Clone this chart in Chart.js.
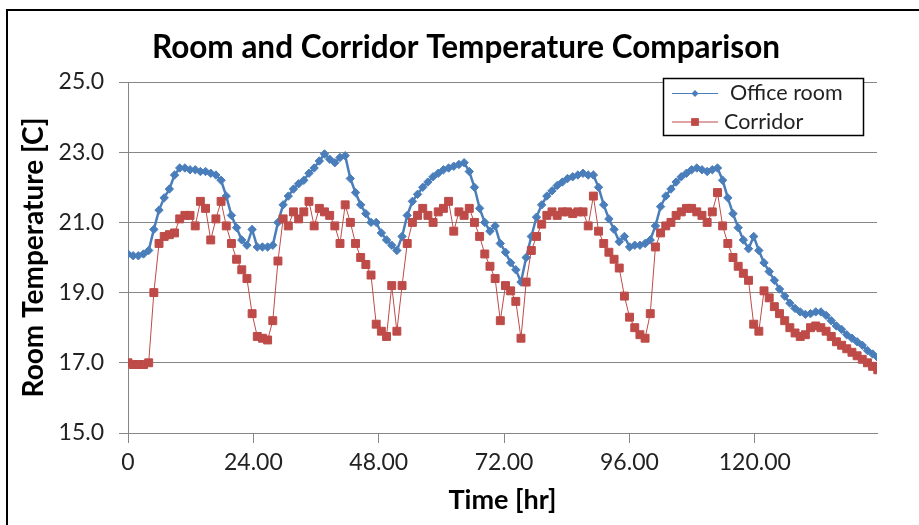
<!DOCTYPE html>
<html><head><meta charset="utf-8">
<script src="https://cdn.jsdelivr.net/npm/chart.js@4.4.1/dist/chart.umd.min.js"></script>
<style>
html,body{margin:0;padding:0;background:#fff;width:919px;height:525px;overflow:hidden;}
#frame{position:absolute;left:6px;top:9px;width:1000px;height:1000px;border-left:2px solid #000;border-top:2px solid #000;box-sizing:border-box;}
canvas{position:absolute;left:0;top:0;}
</style></head><body>
<div id="frame"></div>
<canvas id="c" width="919" height="525"></canvas>
<script>
const chartTitle = 'Room and Corridor Temperature Comparison';
const xTitle = 'Time [hr]';
const yTitle = 'Room Temperature [C]';
const seriesNames = ['Office room', 'Corridor'];
const STEP_HR = 0.99;
const xTicks = [0, 24, 48, 72, 96, 120];
const yTicks = [15, 17, 19, 21, 23, 25];

const officeRoom = [
20.1, 20.05, 20.05, 20.1, 20.2, 20.8, 21.35, 21.7, 21.95, 22.35,
22.55, 22.55, 22.5, 22.5, 22.45, 22.45, 22.4, 22.35, 22.2, 21.75,
21.2, 20.85, 20.5, 20.35, 20.8, 20.3, 20.3, 20.3, 20.35, 21.0,
21.5, 21.75, 21.95, 22.1, 22.2, 22.4, 22.55, 22.75, 22.95, 22.8,
22.7, 22.85, 22.9, 22.25, 21.85, 21.5, 21.25, 21.0, 21.0, 20.7,
20.5, 20.35, 20.2, 20.6, 21.2, 21.6, 21.8, 22.0, 22.15, 22.3,
22.4, 22.5, 22.55, 22.6, 22.65, 22.7, 22.45, 22.0, 21.4, 21.0,
20.75, 20.9, 20.4, 20.15, 19.85, 19.65, 19.3, 20.0, 20.6, 21.15,
21.5, 21.75, 21.9, 22.05, 22.15, 22.25, 22.3, 22.35, 22.4, 22.35,
22.35, 22.0, 21.5, 21.1, 20.8, 20.45, 20.6, 20.3, 20.35, 20.35,
20.4, 20.5, 20.9, 21.45, 21.75, 21.95, 22.15, 22.3, 22.4, 22.5,
22.55, 22.5, 22.45, 22.5, 22.55, 22.2, 21.7, 21.25, 20.85, 20.5,
20.25, 20.6, 20.2, 19.85, 19.6, 19.35, 19.1, 18.9, 18.7, 18.55,
18.45, 18.38, 18.4, 18.45, 18.45, 18.35, 18.2, 18.05, 17.95, 17.8,
17.7, 17.6, 17.5, 17.35, 17.25, 17.15
];

const corridor = [
17.0, 16.95, 16.95, 16.95, 17.0, 19.0, 20.4, 20.6, 20.65, 20.7,
21.1, 21.2, 21.2, 20.9, 21.6, 21.4, 20.5, 21.1, 21.6, 20.9,
20.4, 19.95, 19.65, 19.4, 18.4, 17.75, 17.7, 17.65, 18.2, 19.9,
21.1, 20.9, 21.3, 21.1, 21.3, 21.6, 20.9, 21.4, 21.3, 21.2,
20.9, 20.4, 21.5, 21.0, 20.4, 20.0, 19.8, 19.5, 18.1, 17.9,
17.75, 19.2, 17.9, 19.2, 20.4, 21.0, 21.2, 21.4, 21.2, 21.0,
21.3, 21.4, 21.6, 20.75, 21.3, 21.2, 21.4, 21.0, 20.6, 20.1,
19.75, 19.4, 18.2, 19.2, 19.05, 18.75, 17.7, 19.3, 20.2, 20.6,
20.95, 21.2, 21.3, 21.2, 21.3, 21.3, 21.25, 21.3, 21.3, 20.9,
21.75, 20.75, 20.4, 20.15, 19.95, 19.7, 18.9, 18.3, 18.0, 17.8,
17.7, 18.4, 20.3, 20.7, 20.9, 21.0, 21.2, 21.3, 21.4, 21.4,
21.3, 21.2, 21.0, 21.3, 21.85, 20.9, 20.4, 20.0, 19.75, 19.55,
19.35, 18.1, 17.9, 19.05, 18.85, 18.6, 18.4, 18.2, 18.0, 17.85,
17.75, 17.8, 18.0, 18.05, 18.0, 17.9, 17.75, 17.6, 17.5, 17.4,
17.3, 17.2, 17.1, 17.0, 16.9, 16.8
];

const hours = officeRoom.map((_, i) => +(i * STEP_HR).toFixed(2));

const BLUE = '#4a7ebb';
const RED = '#be4b48';
const GRID = '#868686';

function marker(ctx, style, x, y, r, color) {
  ctx.save();
  ctx.fillStyle = color; ctx.strokeStyle = color;
  ctx.beginPath();
  if (style === 'rectRot') {
    ctx.moveTo(x, y - r); ctx.lineTo(x + r, y); ctx.lineTo(x, y + r); ctx.lineTo(x - r, y); ctx.closePath();
  } else {
    const s = r * Math.SQRT1_2;
    ctx.rect(x - s, y - s, 2 * s, 2 * s);
  }
  ctx.fill();
  ctx.restore();
}

const decor = {
  id: 'decor',
  afterDraw(chart) {
    const ctx = chart.ctx;
    ctx.save();
    ctx.fillStyle = '#000';
    ctx.font = 'bold 31.5px Lato';
    ctx.textAlign = 'center';
    ctx.textBaseline = 'alphabetic';
    ctx.fillText(chartTitle, 466, 58);

    const bx = 663.5, by = 78.5, bw = 200, bh = 57;
    ctx.fillStyle = '#fff';
    ctx.fillRect(bx, by, bw, bh);
    ctx.strokeStyle = '#000';
    ctx.lineWidth = 1.5;
    ctx.strokeRect(bx, by, bw, bh);
    const textX = [730, 724];
    chart.data.datasets.forEach((ds, i) => {
      const y = 93.5 + i * 28.5;
      ctx.strokeStyle = ds.borderColor;
      ctx.lineWidth = 1;
      ctx.beginPath(); ctx.moveTo(672, y); ctx.lineTo(718, y); ctx.stroke();
      marker(ctx, ds.pointStyle, 695, y, i === 0 ? 3.5 : 5.5, ds.borderColor);
      ctx.fillStyle = '#222';
      ctx.font = '21.5px Lato';
      ctx.textAlign = 'left';
      ctx.textBaseline = 'middle';
      ctx.fillText(ds.label, textX[i], y);
    });
    ctx.restore();
  }
};

new Chart(document.getElementById('c'), {
  type: 'line',
  data: {
    datasets: [
      {
        label: seriesNames[0],
        data: hours.map((h, i) => ({ x: h, y: officeRoom[i] })),
        borderColor: BLUE, backgroundColor: BLUE,
        borderWidth: 2.5, pointStyle: 'rectRot', pointRadius: 4.2,
        pointBorderWidth: 1, tension: 0, order: 1
      },
      {
        label: seriesNames[1],
        data: hours.map((h, i) => ({ x: h, y: corridor[i] })),
        borderColor: RED, backgroundColor: RED,
        borderWidth: 1, pointStyle: 'rect', pointRadius: 5.6,
        pointBorderWidth: 1, tension: 0, order: 0
      }
    ]
  },
  options: {
    responsive: false,
    animation: false,
    devicePixelRatio: 1,
    layout: { padding: { top: 82, right: 42, bottom: 0, left: 0 } },
    plugins: { legend: { display: false }, title: { display: false }, tooltip: { enabled: false } },
    scales: {
      x: {
        type: 'linear', min: 0, max: 143.4,
        afterBuildTicks: s => { s.ticks = xTicks.map(v => ({ value: v })); },
        afterFit: s => { s.height = 92; },
        grid: { drawOnChartArea: false, drawTicks: true, tickLength: 10, color: GRID, tickColor: GRID },
        border: { color: GRID, width: 1 },
        ticks: {
          callback: v => v === 0 ? '0' : Number(v).toFixed(2),
          font: { family: 'Lato', size: 23 }, color: '#222',
          maxRotation: 0, autoSkip: false, padding: 6
        },
        title: { display: true, text: xTitle, font: { family: 'Lato', size: 27, weight: 'bold' }, color: '#000', padding: { top: 9, bottom: 9 } }
      },
      y: {
        min: 15, max: 25,
        afterBuildTicks: s => { s.ticks = yTicks.map(v => ({ value: v })); },
        afterFit: s => { s.width = 128; },
        grid: { color: GRID, tickColor: GRID, tickLength: 9, drawTicks: true },
        border: { color: GRID, width: 1 },
        ticks: {
          callback: v => Number(v).toFixed(1),
          font: { family: 'Lato', size: 23 }, color: '#222', padding: 15
        },
        title: { display: true, text: yTitle, font: { family: 'Lato', size: 28, weight: 'bold' }, color: '#000', padding: { top: 17, bottom: 0 } }
      }
    }
  },
  plugins: [decor]
});
</script>
</body></html>
